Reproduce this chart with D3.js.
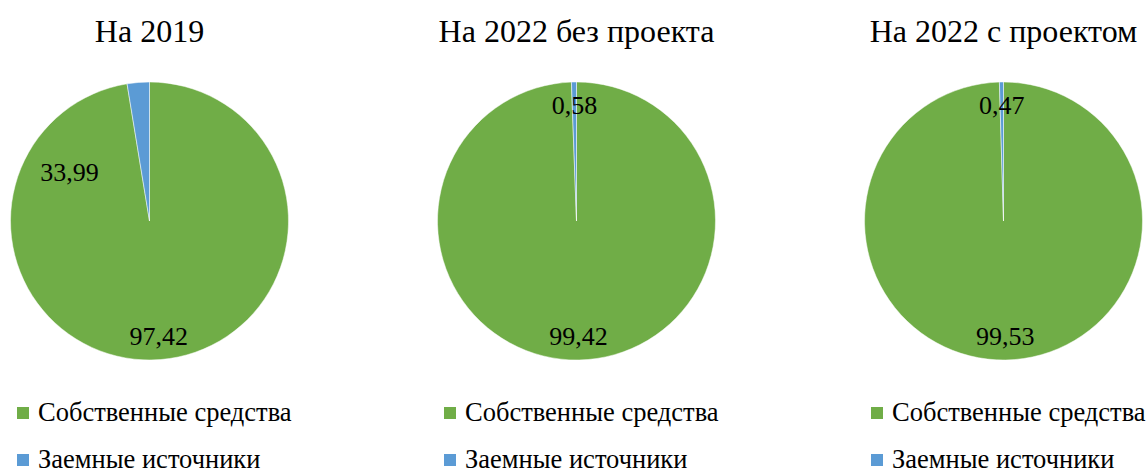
<!DOCTYPE html>
<html>
<head>
<meta charset="utf-8">
<script src="https://cdn.jsdelivr.net/npm/d3@7"></script>
<style>
  html, body { margin: 0; padding: 0; background: #fff; }
  svg { display: block; }
</style>
</head>
<body>
<svg id="chart" width="1147" height="470"></svg>
<script>
// Structure of funding sources, %
const periods = ["На 2019", "На 2022 без проекта", "На 2022 с проектом"];
const categories = ["Собственные средства", "Заемные источники"];
const ownFunds = [97.42, 99.42, 99.53];
const borrowedFunds = [2.58, 0.58, 0.47];
// printed labels of the borrowed-funds slices
const borrowedLabels = ["33,99", "0,58", "0,47"];

const colors = ["#70AD47", "#5B9BD5"];
const FONT = "'Liberation Serif', 'Times New Roman', serif";
const fmt = v => d3.format(".2f")(v).replace(".", ",");

const svg = d3.select("#chart");

const R = 139;
const centerY = 221;
const centerX = d3.scalePoint().domain(periods).range([149.5, 1003.5]);

const pie = d3.pie().sort(null).value(d => d.value);
const arc = d3.arc().innerRadius(0).outerRadius(R);

// label placement: angle (radians, clockwise from 12 o'clock) override and radius factor
const labelOverride = { "0-1": { angle: -58.5 * Math.PI / 180, r: 0.675 } };

periods.forEach((p, i) => {
  const cx = centerX(p);
  const g = svg.append("g").attr("transform", `translate(${cx},${centerY})`);
  const data = [
    { cat: categories[0], value: ownFunds[i], label: fmt(ownFunds[i]) },
    { cat: categories[1], value: borrowedFunds[i], label: borrowedLabels[i] }
  ];
  const arcs = pie(data);

  g.selectAll("path").data(arcs).join("path")
    .attr("d", arc)
    .attr("fill", (d, k) => colors[k])
    .attr("stroke", "#fff")
    .attr("stroke-width", 0.5);

  g.selectAll("text.val").data(arcs).join("text")
    .attr("class", "val")
    .attr("transform", (d, k) => {
      const o = labelOverride[`${i}-${k}`];
      const a = o ? o.angle : (d.startAngle + d.endAngle) / 2;
      const r = (o ? o.r : 0.83) * R;
      return `translate(${r * Math.sin(a)},${-r * Math.cos(a)})`;
    })
    .attr("text-anchor", "middle")
    .attr("dy", "0.34em")
    .attr("font-family", FONT)
    .attr("font-size", 26)
    .attr("fill", "#000")
    .text(d => d.data.label);

  // title
  svg.append("text")
    .attr("x", cx).attr("y", 42)
    .attr("text-anchor", "middle")
    .attr("font-family", FONT)
    .attr("font-size", 32)
    .attr("fill", "#000")
    .text(p);

  // legend
  const lg = svg.append("g").attr("transform", `translate(${cx - 132.5},407)`);
  categories.forEach((c, k) => {
    const row = lg.append("g").attr("transform", `translate(0,${k * 47})`);
    row.append("rect").attr("width", 12).attr("height", 12).attr("fill", colors[k]);
    row.append("text").attr("x", 21).attr("y", 14)
      .attr("font-family", FONT)
      .attr("font-size", 26.5).attr("fill", "#000").text(c);
  });
});
</script>
</body>
</html>
